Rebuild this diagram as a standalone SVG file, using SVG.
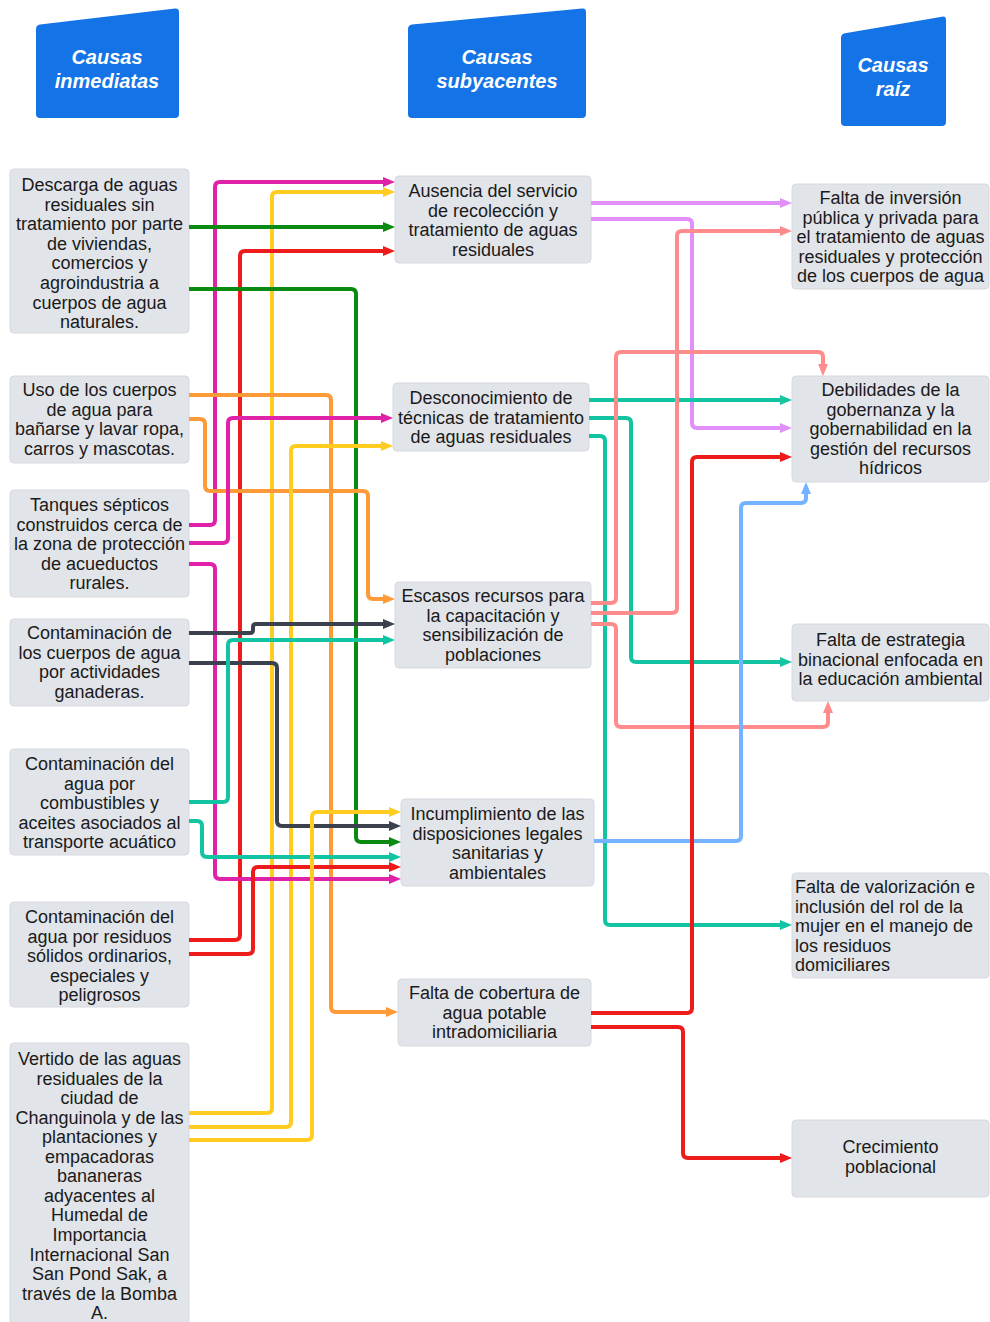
<svg xmlns="http://www.w3.org/2000/svg" width="990" height="1322" viewBox="0 0 990 1322">
<style>
.hdr{fill:#1473E6}
.ht{font-family:"Liberation Sans",Arial,sans-serif;font-size:20px;font-weight:bold;font-style:italic;fill:#fff;text-anchor:middle}
.nd{fill:#E1E4E9;stroke:#D6D9DE;stroke-width:1}
.t{font-family:"Liberation Sans",Arial,sans-serif;font-size:18px;fill:#1a1a1a;text-anchor:middle}
.tl{font-family:"Liberation Sans",Arial,sans-serif;font-size:18px;fill:#1a1a1a;text-anchor:start}
.c{fill:none;stroke-width:4;stroke-linejoin:round}
.mag{stroke:#DF22A8}.yel{stroke:#FFCC1F}.grn{stroke:#0A8A10}.red{stroke:#EE1B1B}.org{stroke:#FF9A38}
.drk{stroke:#3B424D}.tea{stroke:#12C4A2}.pur{stroke:#E090F8}.sal{stroke:#FF8C8C}.blu{stroke:#73B3FF}
</style>
<defs>
<marker id="m-mag" markerUnits="userSpaceOnUse" markerWidth="13" markerHeight="11" refX="0" refY="5" orient="auto"><path d="M0,0 L12,5 L0,10 Z" fill="#DF22A8"/></marker>
<marker id="m-yel" markerUnits="userSpaceOnUse" markerWidth="13" markerHeight="11" refX="0" refY="5" orient="auto"><path d="M0,0 L12,5 L0,10 Z" fill="#FFCC1F"/></marker>
<marker id="m-grn" markerUnits="userSpaceOnUse" markerWidth="13" markerHeight="11" refX="0" refY="5" orient="auto"><path d="M0,0 L12,5 L0,10 Z" fill="#0A8A10"/></marker>
<marker id="m-red" markerUnits="userSpaceOnUse" markerWidth="13" markerHeight="11" refX="0" refY="5" orient="auto"><path d="M0,0 L12,5 L0,10 Z" fill="#EE1B1B"/></marker>
<marker id="m-org" markerUnits="userSpaceOnUse" markerWidth="13" markerHeight="11" refX="0" refY="5" orient="auto"><path d="M0,0 L12,5 L0,10 Z" fill="#FF9A38"/></marker>
<marker id="m-drk" markerUnits="userSpaceOnUse" markerWidth="13" markerHeight="11" refX="0" refY="5" orient="auto"><path d="M0,0 L12,5 L0,10 Z" fill="#3B424D"/></marker>
<marker id="m-tea" markerUnits="userSpaceOnUse" markerWidth="13" markerHeight="11" refX="0" refY="5" orient="auto"><path d="M0,0 L12,5 L0,10 Z" fill="#12C4A2"/></marker>
<marker id="m-pur" markerUnits="userSpaceOnUse" markerWidth="13" markerHeight="11" refX="0" refY="5" orient="auto"><path d="M0,0 L12,5 L0,10 Z" fill="#E090F8"/></marker>
<marker id="m-sal" markerUnits="userSpaceOnUse" markerWidth="13" markerHeight="11" refX="0" refY="5" orient="auto"><path d="M0,0 L12,5 L0,10 Z" fill="#FF8C8C"/></marker>
<marker id="m-blu" markerUnits="userSpaceOnUse" markerWidth="13" markerHeight="11" refX="0" refY="5" orient="auto"><path d="M0,0 L12,5 L0,10 Z" fill="#73B3FF"/></marker>
</defs>
<rect width="990" height="1322" fill="#fff"/>

<g id="h-inmediatas">
<path class="hdr" d="M36,29 Q36,25 40,24.5 L175,8.5 Q179,8 179,12 V114 Q179,118 175,118 H40 Q36,118 36,114 Z"/>
<text class="ht" x="107" y="64">Causas</text><text class="ht" x="107" y="88">inmediatas</text>
</g>
<g id="h-subyacentes">
<path class="hdr" d="M408,29 Q408,25 412,24.5 L582,8.5 Q586,8 586,12 V114 Q586,118 582,118 H412 Q408,118 408,114 Z"/>
<text class="ht" x="497" y="64">Causas</text><text class="ht" x="497" y="88">subyacentes</text>
</g>
<g id="h-raiz">
<path class="hdr" d="M841,38 Q841,34 845,33.3 L942,16.7 Q946,16 946,20 V122 Q946,126 942,126 H845 Q841,126 841,122 Z"/>
<text class="ht" x="893" y="72">Causas</text><text class="ht" x="893" y="96">raíz</text>
</g>

<g id="n1">
<rect class="nd" x="10" y="169" width="179" height="164" rx="4"/>
<text class="t" x="99.5" y="191">Descarga de aguas</text>
<text class="t" x="99.5" y="210.6">residuales sin</text>
<text class="t" x="99.5" y="230.2">tratamiento por parte</text>
<text class="t" x="99.5" y="249.8">de viviendas,</text>
<text class="t" x="99.5" y="269.4">comercios y</text>
<text class="t" x="99.5" y="289">agroindustria a</text>
<text class="t" x="99.5" y="308.6">cuerpos de agua</text>
<text class="t" x="99.5" y="328.2">naturales.</text>
</g>
<g id="n2">
<rect class="nd" x="10" y="376" width="179" height="87" rx="4"/>
<text class="t" x="99.5" y="396">Uso de los cuerpos</text>
<text class="t" x="99.5" y="415.6">de agua para</text>
<text class="t" x="99.5" y="435.2">bañarse y lavar ropa,</text>
<text class="t" x="99.5" y="454.8">carros y mascotas.</text>
</g>
<g id="n3">
<rect class="nd" x="10" y="490" width="179" height="107" rx="4"/>
<text class="t" x="99.5" y="511">Tanques sépticos</text>
<text class="t" x="99.5" y="530.6">construidos cerca de</text>
<text class="t" x="99.5" y="550.2">la zona de protección</text>
<text class="t" x="99.5" y="569.8">de acueductos</text>
<text class="t" x="99.5" y="589.4">rurales.</text>
</g>
<g id="n4">
<rect class="nd" x="10" y="619" width="179" height="87" rx="4"/>
<text class="t" x="99.5" y="639">Contaminación de</text>
<text class="t" x="99.5" y="658.6">los cuerpos de agua</text>
<text class="t" x="99.5" y="678.2">por actividades</text>
<text class="t" x="99.5" y="697.8">ganaderas.</text>
</g>
<g id="n5">
<rect class="nd" x="10" y="749" width="179" height="106" rx="4"/>
<text class="t" x="99.5" y="770">Contaminación del</text>
<text class="t" x="99.5" y="789.6">agua por</text>
<text class="t" x="99.5" y="809.2">combustibles y</text>
<text class="t" x="99.5" y="828.8">aceites asociados al</text>
<text class="t" x="99.5" y="848.4">transporte acuático</text>
</g>
<g id="n6">
<rect class="nd" x="10" y="902" width="179" height="105" rx="4"/>
<text class="t" x="99.5" y="923">Contaminación del</text>
<text class="t" x="99.5" y="942.6">agua por residuos</text>
<text class="t" x="99.5" y="962.2">sólidos ordinarios,</text>
<text class="t" x="99.5" y="981.8">especiales y</text>
<text class="t" x="99.5" y="1001.4">peligrosos</text>
</g>
<g id="n7">
<rect class="nd" x="10" y="1043" width="179" height="290" rx="4"/>
<text class="t" x="99.5" y="1065">Vertido de las aguas</text>
<text class="t" x="99.5" y="1084.55">residuales de la</text>
<text class="t" x="99.5" y="1104.1">ciudad de</text>
<text class="t" x="99.5" y="1123.65">Changuinola y de las</text>
<text class="t" x="99.5" y="1143.2">plantaciones y</text>
<text class="t" x="99.5" y="1162.75">empacadoras</text>
<text class="t" x="99.5" y="1182.3">bananeras</text>
<text class="t" x="99.5" y="1201.85">adyacentes al</text>
<text class="t" x="99.5" y="1221.4">Humedal de</text>
<text class="t" x="99.5" y="1240.95">Importancia</text>
<text class="t" x="99.5" y="1260.5">Internacional San</text>
<text class="t" x="99.5" y="1280.05">San Pond Sak, a</text>
<text class="t" x="99.5" y="1299.6">través de la Bomba</text>
<text class="t" x="99.5" y="1319.15">A.</text>
</g>

<g id="mA">
<rect class="nd" x="395" y="176" width="196" height="87" rx="4"/>
<text class="t" x="493" y="197">Ausencia del servicio</text>
<text class="t" x="493" y="216.6">de recolección y</text>
<text class="t" x="493" y="236.2">tratamiento de aguas</text>
<text class="t" x="493" y="255.8">residuales</text>
</g>
<g id="mB">
<rect class="nd" x="393" y="383" width="196" height="68" rx="4"/>
<text class="t" x="491" y="404">Desconocimiento de</text>
<text class="t" x="491" y="423.6">técnicas de tratamiento</text>
<text class="t" x="491" y="443.2">de aguas residuales</text>
</g>
<g id="mC">
<rect class="nd" x="395" y="582" width="196" height="86" rx="4"/>
<text class="t" x="493" y="602">Escasos recursos para</text>
<text class="t" x="493" y="621.6">la capacitación y</text>
<text class="t" x="493" y="641.2">sensibilización de</text>
<text class="t" x="493" y="660.8">poblaciones</text>
</g>
<g id="mD">
<rect class="nd" x="401" y="799" width="193" height="87" rx="4"/>
<text class="t" x="497.5" y="820">Incumplimiento de las</text>
<text class="t" x="497.5" y="839.6">disposiciones legales</text>
<text class="t" x="497.5" y="859.2">sanitarias y</text>
<text class="t" x="497.5" y="878.8">ambientales</text>
</g>
<g id="mE">
<rect class="nd" x="398" y="979" width="193" height="67" rx="4"/>
<text class="t" x="494.5" y="999">Falta de cobertura de</text>
<text class="t" x="494.5" y="1018.6">agua potable</text>
<text class="t" x="494.5" y="1038.2">intradomiciliaria</text>
</g>

<g id="r1">
<rect class="nd" x="792" y="184" width="197" height="105" rx="4"/>
<text class="t" x="890.5" y="204">Falta de inversión</text>
<text class="t" x="890.5" y="223.6">pública y privada para</text>
<text class="t" x="890.5" y="243.2">el tratamiento de aguas</text>
<text class="t" x="890.5" y="262.8">residuales y protección</text>
<text class="t" x="890.5" y="282.4">de los cuerpos de agua</text>
</g>
<g id="r2">
<rect class="nd" x="792" y="376" width="197" height="106" rx="4"/>
<text class="t" x="890.5" y="396">Debilidades de la</text>
<text class="t" x="890.5" y="415.6">gobernanza y la</text>
<text class="t" x="890.5" y="435.2">gobernabilidad en la</text>
<text class="t" x="890.5" y="454.8">gestión del recursos</text>
<text class="t" x="890.5" y="474.4">hídricos</text>
</g>
<g id="r3">
<rect class="nd" x="792" y="624" width="197" height="77" rx="4"/>
<text class="t" x="890.5" y="646">Falta de estrategia</text>
<text class="t" x="890.5" y="665.6">binacional enfocada en</text>
<text class="t" x="890.5" y="685.2">la educación ambiental</text>
</g>
<g id="r4">
<rect class="nd" x="792" y="873" width="197" height="105" rx="4"/>
<text class="tl" x="795" y="893">Falta de valorización e</text>
<text class="tl" x="795" y="912.6">inclusión del rol de la</text>
<text class="tl" x="795" y="932.2">mujer en el manejo de</text>
<text class="tl" x="795" y="951.8">los residuos</text>
<text class="tl" x="795" y="971.4">domiciliares</text>
</g>
<g id="r5">
<rect class="nd" x="792" y="1120" width="197" height="77" rx="4"/>
<text class="t" x="890.5" y="1153">Crecimiento</text>
<text class="t" x="890.5" y="1172.6">poblacional</text>
</g>

<g id="connectors">
<path class="c mag" marker-end="url(#m-mag)" d="M189,525 H210 Q215,525 215,520 V187 Q215,182 220,182 H383"/>
<path class="c yel" marker-end="url(#m-yel)" d="M189,1113 H267 Q272,1113 272,1108 V197 Q272,192 277,192 H383"/>
<path class="c grn" marker-end="url(#m-grn)" d="M189,227 H383"/>
<path class="c red" marker-end="url(#m-red)" d="M189,940 H235 Q240,940 240,935 V256 Q240,251 245,251 H383"/>
<path class="c grn" marker-end="url(#m-grn)" d="M189,289 H351 Q356,289 356,294 V837 Q356,842 361,842 H389"/>
<path class="c org" marker-end="url(#m-org)" d="M189,395 H326 Q331,395 331,400 V1007 Q331,1012 336,1012 H386"/>
<path class="c org" marker-end="url(#m-org)" d="M189,419 H200 Q205,419 205,424 V486 Q205,491 210,491 H363 Q368,491 368,496 V594 Q368,599 373,599 H383"/>
<path class="c mag" marker-end="url(#m-mag)" d="M189,543 H223 Q228,543 228,538 V423 Q228,418 233,418 H381"/>
<path class="c yel" marker-end="url(#m-yel)" d="M189,1127 H286 Q291,1127 291,1122 V451 Q291,446 296,446 H381"/>
<path class="c mag" marker-end="url(#m-mag)" d="M189,564 H210 Q215,564 215,569 V874 Q215,879 220,879 H389"/>
<path class="c drk" marker-end="url(#m-drk)" d="M189,633 H250 Q253,633 253,630 V627 Q253,624 256,624 H383"/>
<path class="c drk" marker-end="url(#m-drk)" d="M189,663 H272 Q277,663 277,668 V821 Q277,826 282,826 H389"/>
<path class="c tea" marker-end="url(#m-tea)" d="M189,802 H223 Q228,802 228,797 V645 Q228,640 233,640 H383"/>
<path class="c tea" marker-end="url(#m-tea)" d="M189,821 H197 Q202,821 202,826 V852 Q202,857 207,857 H389"/>
<path class="c red" marker-end="url(#m-red)" d="M189,954 H248 Q253,954 253,949 V872 Q253,867 258,867 H389"/>
<path class="c yel" marker-end="url(#m-yel)" d="M189,1140 H307 Q312,1140 312,1135 V817 Q312,812 317,812 H389"/>
<path class="c pur" marker-end="url(#m-pur)" d="M591,203 H780"/>
<path class="c pur" marker-end="url(#m-pur)" d="M591,219 H687 Q692,219 692,224 V423 Q692,428 697,428 H780"/>
<path class="c tea" marker-end="url(#m-tea)" d="M589,400 H780"/>
<path class="c tea" marker-end="url(#m-tea)" d="M589,418 H626 Q631,418 631,423 V657 Q631,662 636,662 H780"/>
<path class="c tea" marker-end="url(#m-tea)" d="M589,436 H600 Q605,436 605,441 V920 Q605,925 610,925 H780"/>
<path class="c sal" marker-end="url(#m-sal)" d="M591,603 H611 Q616,603 616,598 V357 Q616,352 621,352 H818 Q823,352 823,357 V364"/>
<path class="c sal" marker-end="url(#m-sal)" d="M591,613 H672 Q677,613 677,608 V236 Q677,231 682,231 H780"/>
<path class="c sal" marker-end="url(#m-sal)" d="M591,624 H611 Q616,624 616,629 V722 Q616,727 621,727 H823 Q828,727 828,722 V713"/>
<path class="c blu" marker-end="url(#m-blu)" d="M594,841 H736 Q741,841 741,836 V508 Q741,503 746,503 H801 Q806,503 806,498 V494"/>
<path class="c red" marker-end="url(#m-red)" d="M591,1013 H687 Q692,1013 692,1008 V462 Q692,457 697,457 H780"/>
<path class="c red" marker-end="url(#m-red)" d="M591,1027 H678 Q683,1027 683,1032 V1153 Q683,1158 688,1158 H780"/>
</g>
</svg>
